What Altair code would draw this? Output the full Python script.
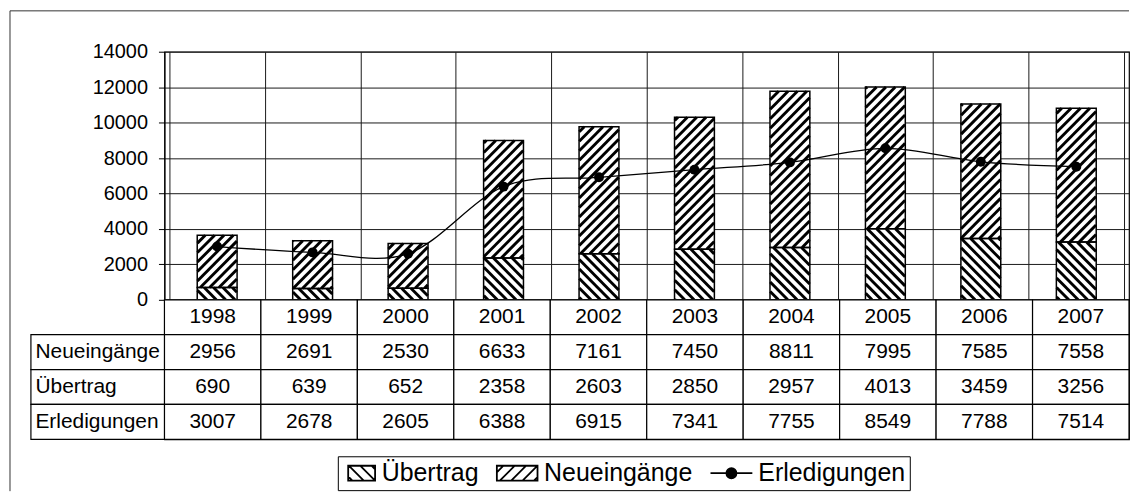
import math
import altair as alt
import pandas as pd

# ---------------- data ----------------
years = [1998, 1999, 2000, 2001, 2002, 2003, 2004, 2005, 2006, 2007]
neueingaenge = [2956, 2691, 2530, 6633, 7161, 7450, 8811, 7995, 7585, 7558]
uebertrag = [690, 639, 652, 2358, 2603, 2850, 2957, 4013, 3459, 3256]
erledigungen = [3007, 2678, 2605, 6388, 6915, 7341, 7755, 8549, 7788, 7514]
row_names = ["Neueingänge", "Übertrag", "Erledigungen"]
series_names = ["Übertrag", "Neueingänge", "Erledigungen"]
y_ticks = [0, 2000, 4000, 6000, 8000, 10000, 12000, 14000]

# ---------------- layout / style ----------------
FONT = "Liberation Sans"
PW, PH = 968, 249          # plot area
YMAX = 14000
BAR_W = 40                 # bar width in px
HATCH_GAP = 9.5            # horizontal distance between hatch lines (px)
HATCH_W = 2.9
ROW_H = 35
TAB_H = ROW_H * 4
LABEL_COL = 134
sx = PW / len(years)
sy = PH / YMAX


def hatch(xl, xr, yb, yt, direction):
    """Diagonal hatch segments clipped to a rectangle (pixel space, y up)."""
    segs = []
    if direction == "/":
        cmin, cmax = yb - xr, yt - xl
    else:
        cmin, cmax = xl + yb, xr + yt
    for k in range(math.floor(cmin / HATCH_GAP), math.ceil(cmax / HATCH_GAP) + 1):
        c = k * HATCH_GAP
        if direction == "/":
            lo, hi = max(xl, yb - c), min(xr, yt - c)
            if hi - lo > 0.4:
                segs.append((lo, lo + c, hi, hi + c))
        else:
            lo, hi = max(xl, c - yt), min(xr, c - yb)
            if hi - lo > 0.4:
                segs.append((lo, c - lo, hi, c - hi))
    return segs


bar_rows, hatch_rows = [], []
for i, yr in enumerate(years):
    pos = i + 0.5
    u, n = uebertrag[i], neueingaenge[i]
    bar_rows.append({"pos": pos, "y0": 0, "y1": u, "series": "Übertrag"})
    bar_rows.append({"pos": pos, "y0": u, "y1": u + n, "series": "Neueingänge"})
    cpx = pos * sx
    xl, xr = cpx - BAR_W / 2, cpx + BAR_W / 2
    for (yb, yt, d) in [(0, u * sy, "\\"), (u * sy, (u + n) * sy, "/")]:
        for (x1, y1, x2, y2) in hatch(xl, xr, yb, yt, d):
            hatch_rows.append({"pos": x1 / sx, "y0": y1 / sy, "hx2": x2 / sx, "hy2": y2 / sy})

bars_df = pd.DataFrame(bar_rows)
hatch_df = pd.DataFrame(hatch_rows)
line_df = pd.DataFrame({"pos": [i + 0.5 for i in range(len(years))], "y0": erledigungen})

row_domain = ["Jahr"] + row_names
tab_rows = []
for i, yr in enumerate(years):
    tab_rows.append({"year": str(yr), "row": "Jahr", "txt": str(yr)})
    tab_rows.append({"year": str(yr), "row": "Neueingänge", "txt": str(neueingaenge[i])})
    tab_rows.append({"year": str(yr), "row": "Übertrag", "txt": str(uebertrag[i])})
    tab_rows.append({"year": str(yr), "row": "Erledigungen", "txt": str(erledigungen[i])})
tab_df = pd.DataFrame(tab_rows)
label_df = pd.DataFrame({"row": row_names})

# legend symbols: custom SVG paths (unit = half of sqrt(symbolSize) = 12 px)
SYM_SIZE = 576
SX, SH = 1.7, 0.625


def swatch(kind, xl, xr):
    parts = [f"M{xl:.3f},{-SH}H{xr:.3f}V{SH}H{xl:.3f}Z"]
    gap = 0.95
    x0 = xr - 2 * SH
    while x0 > xl - 2 * SH:
        x0 -= gap
    while x0 < xr:
        t0, t1 = max(0.0, xl - x0), min(2 * SH, xr - x0)
        if t1 - t0 > 0.05:
            if kind == "/":
                parts.append(f"M{x0 + t0:.3f},{SH - t0:.3f}L{x0 + t1:.3f},{SH - t1:.3f}")
            else:
                parts.append(f"M{x0 + t0:.3f},{-SH + t0:.3f}L{x0 + t1:.3f},{-SH + t1:.3f}")
        x0 += gap
    return "".join(parts)


def line_symbol():
    r = 0.42
    return (f"M{-SX - 0.05},0H{-r}M{r},0H{SX + 0.05}M{-r},0A{r},{r},0,1,1,{r},0"
            f"A{r},{r},0,1,1,{-r},0Z")


symbol_paths = [swatch("\\", SX - 27 / 12, SX), swatch("/", -SX, SX), line_symbol()]
legend_df = pd.DataFrame({"series": series_names})

# ---------------- top panel ----------------
xscale = alt.Scale(domain=[0, len(years)], nice=False, zero=False)
xaxis = alt.Axis(values=list(range(len(years) + 1)), grid=True, labels=False,
                 ticks=False, domain=False, gridColor="#1a1a1a", gridWidth=1, title=None)
yscale = alt.Scale(domain=[0, YMAX], nice=False)
yaxis = alt.Axis(values=y_ticks, format="d", labelOverlap=False, grid=True,
                 gridColor="#1a1a1a", gridWidth=1, tickSize=6, tickColor="black",
                 domainColor="black", labelFontSize=20, labelPadding=11,
                 labelColor="black", labelFont=FONT, title=None)


def X(f):
    return alt.X(f, scale=xscale, axis=xaxis, title=None)


def Y(f):
    return alt.Y(f, scale=yscale, axis=yaxis, title=None)


bars_fill = alt.Chart(bars_df).mark_bar(size=BAR_W, fill="white", strokeWidth=0).encode(
    x=X("pos:Q"), y=Y("y0:Q"), y2="y1:Q")
hatch_layer = alt.Chart(hatch_df).mark_rule(color="black", strokeWidth=HATCH_W,
                                            strokeCap="butt").encode(
    x=X("pos:Q"), x2="hx2:Q", y=Y("y0:Q"), y2="hy2:Q")
bars_outline = alt.Chart(bars_df).mark_bar(size=BAR_W, fillOpacity=0, stroke="black",
                                           strokeWidth=1.5).encode(
    x=X("pos:Q"), y=Y("y0:Q"), y2="y1:Q")
line = alt.Chart(line_df).mark_line(color="black", strokeWidth=1.3,
                                    interpolate="cardinal").encode(
    x=X("pos:Q"), y=Y("y0:Q"))
points = alt.Chart(line_df).mark_circle(color="black", size=100, opacity=1).encode(
    x=X("pos:Q"), y=Y("y0:Q"))

frame_df = pd.DataFrame({"k": [0]})
frame_left = alt.Chart(frame_df).mark_rule(color="#333333", strokeWidth=1).encode(
    x=alt.value(-155), y=alt.value(-41), y2=alt.value(441))
frame_top = alt.Chart(frame_df).mark_rule(color="#333333", strokeWidth=1).encode(
    x=alt.value(-155), x2=alt.value(968), y=alt.value(-41))

top = alt.layer(bars_fill, hatch_layer, bars_outline, line, points,
                frame_left, frame_top).properties(width=PW, height=PH)

# ---------------- table panel ----------------
year_sort = [str(y) for y in years]
xb = alt.X("year:N", title=None, sort=year_sort,
           scale=alt.Scale(paddingInner=0, paddingOuter=0), axis=None)
yb = alt.Y("row:N", title=None, sort=row_domain,
           scale=alt.Scale(domain=row_domain, paddingInner=0, paddingOuter=0),
           axis=alt.Axis(labelAlign="left", labelPadding=130, ticks=False, tickSize=0,
                         domain=False, labelFontSize=21, labelColor="black",
                         labelFont=FONT, labelBaseline="middle", title=None,
                         labelExpr="datum.value == 'Jahr' ? '' : datum.value"))

cells = alt.Chart(tab_df).mark_rect(fill="white", stroke="black", strokeWidth=1.2).encode(
    x=xb, y=yb)
texts = alt.Chart(tab_df).mark_text(fontSize=21, font=FONT, color="black").encode(
    x=xb, y=yb, text="txt:N")
label_cells = alt.Chart(label_df).mark_rect(fill="white", stroke="black",
                                            strokeWidth=1.2).encode(
    x=alt.value(-LABEL_COL), x2=alt.value(0), y=yb)

leg = alt.Legend(orient="none", legendX=174, legendY=157, direction="horizontal",
                 title=None, labelFont=FONT, labelFontSize=25, labelColor="black",
                 symbolSize=SYM_SIZE, symbolStrokeWidth=1.8,
                 symbolOpacity=1, strokeColor="black", fillColor="white", padding=4,
                 labelOffset=14, columnPadding=14, labelLimit=0)
dummy = alt.Chart(legend_df).mark_point(opacity=0).encode(
    x=alt.value(0), y=alt.value(0),
    shape=alt.Shape("series:N", sort=series_names,
                    scale=alt.Scale(domain=series_names, range=symbol_paths),
                    legend=leg),
    fill=alt.Fill("series:N", sort=series_names,
                  scale=alt.Scale(domain=series_names, range=["white", "white", "black"]),
                  legend=leg),
    stroke=alt.Stroke("series:N", sort=series_names,
                      scale=alt.Scale(domain=series_names, range=["black", "black", "black"]),
                      legend=leg))

table = alt.layer(cells, label_cells, texts, dummy).properties(width=PW, height=TAB_H)

chart = alt.vconcat(top, table, spacing=0, bounds="flush").resolve_scale(
    fill="independent", stroke="independent", shape="independent").resolve_legend(
    fill="independent", stroke="independent", shape="independent").properties(
    padding=0).configure(font=FONT).configure_view(stroke="black", strokeWidth=1.2)

chart.save("out.html", embed_options={"renderer": "svg", "actions": False})
